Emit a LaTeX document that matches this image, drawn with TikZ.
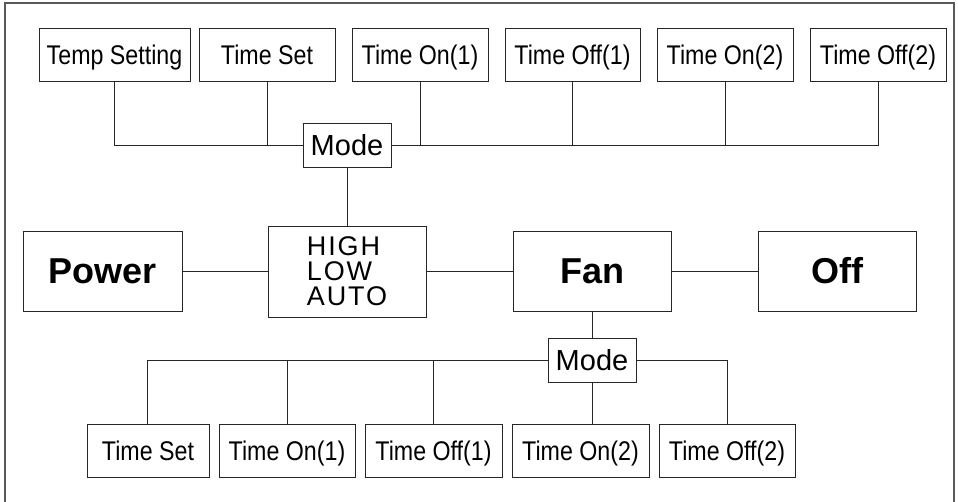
\documentclass[tikz,border=0pt]{standalone}
\usepackage{fontspec}
\setmainfont{Liberation Sans}
\newfontfamily\condfont[FakeStretch=0.86]{Liberation Sans}
\newfontfamily\hlafont[LetterSpace=7]{Liberation Sans}
\begin{document}
\begin{tikzpicture}[x=1pt,y=-1pt,
  line width=0.9pt,
  conn/.style={draw=black!85},
  box/.style={draw=black!85, inner sep=0pt, text=black},
  small/.style={box, minimum height=53pt, font=\condfont\fontsize{27}{27}\selectfont, text height=19.3pt, text depth=0pt},
  modebox/.style={box, minimum width=88pt, minimum height=44pt, font=\fontsize{29}{29}\selectfont, text height=20.8pt, text depth=0pt},
  big/.style={box, minimum width=158pt, minimum height=80pt, font=\bfseries\fontsize{36}{36}\selectfont, text height=25.8pt, text depth=0pt}]
\useasboundingbox (0,0) rectangle (958,502);
\draw[draw=black!65, line width=1.3pt] (5,3) rectangle (954,530);
% top row
\node[small, minimum width=151pt] (ts)    at (114.5,54.5) {Temp Setting};
\node[small, minimum width=136pt] (tset)  at (267,54.5) {Time Set};
\node[small, minimum width=136pt] (ton1)  at (420,54.5) {Time On(1)};
\node[small, minimum width=135pt] (toff1) at (572.5,54.5) {Time Off(1)};
\node[small, minimum width=136pt] (ton2)  at (725,54.5) {Time On(2)};
\node[small, minimum width=136pt] (toff2) at (878,54.5) {Time Off(2)};
\node[modebox] (modeA) at (347,145) {Mode};
% middle row
\node[big, minimum width=159pt] (power) at (102.5,271) {Power};
\node[box, minimum width=158pt, minimum height=91pt, align=left,
      font=\hlafont\fontsize{27}{25}\selectfont] (hla) at (347,271.5) {HIGH\\LOW\\AUTO};
\node[big] (fan) at (592,271) {Fan};
\node[big] (off) at (837,271) {Off};
% bottom
\node[modebox] (modeB) at (592,360) {Mode};
\node[small, minimum width=122pt] (bset)  at (148,450.5) {Time Set};
\node[small, minimum width=136pt] (bon1)  at (287,450.5) {Time On(1)};
\node[small, minimum width=137pt] (boff1) at (433.5,450.5) {Time Off(1)};
\node[small, minimum width=137pt] (bon2)  at (580.5,450.5) {Time On(2)};
\node[small, minimum width=136pt] (boff2) at (727,450.5) {Time Off(2)};
% top connectors
\draw[conn] (ts.south) |- (modeA.west);
\draw[conn] (tset.south) -- (tset.south |- modeA.west);
\draw[conn] (modeA.east) -| (toff2.south);
\draw[conn] (ton1.south) -- (ton1.south |- modeA.east);
\draw[conn] (toff1.south) -- (toff1.south |- modeA.east);
\draw[conn] (ton2.south) -- (ton2.south |- modeA.east);
\draw[conn] (modeA.south) -- (hla.north);
% middle connectors
\draw[conn] (power.east) -- (power.east -| hla.west);
\draw[conn] (hla.east |- fan.west) -- (fan.west);
\draw[conn] (fan.east) -- (off.west);
\draw[conn] (fan.south) -- (modeB.north);
% bottom connectors
\draw[conn] (modeB.west) -| ([xshift=-1pt]bset.north);
\draw[conn] (bon1.north) -- (bon1.north |- modeB.west);
\draw[conn] (boff1.north) -- (boff1.north |- modeB.west);
\draw[conn] (modeB.south) -- (modeB.south |- bon2.north);
\draw[conn] (modeB.east) -| (boff2.north);
\end{tikzpicture}
\end{document}
